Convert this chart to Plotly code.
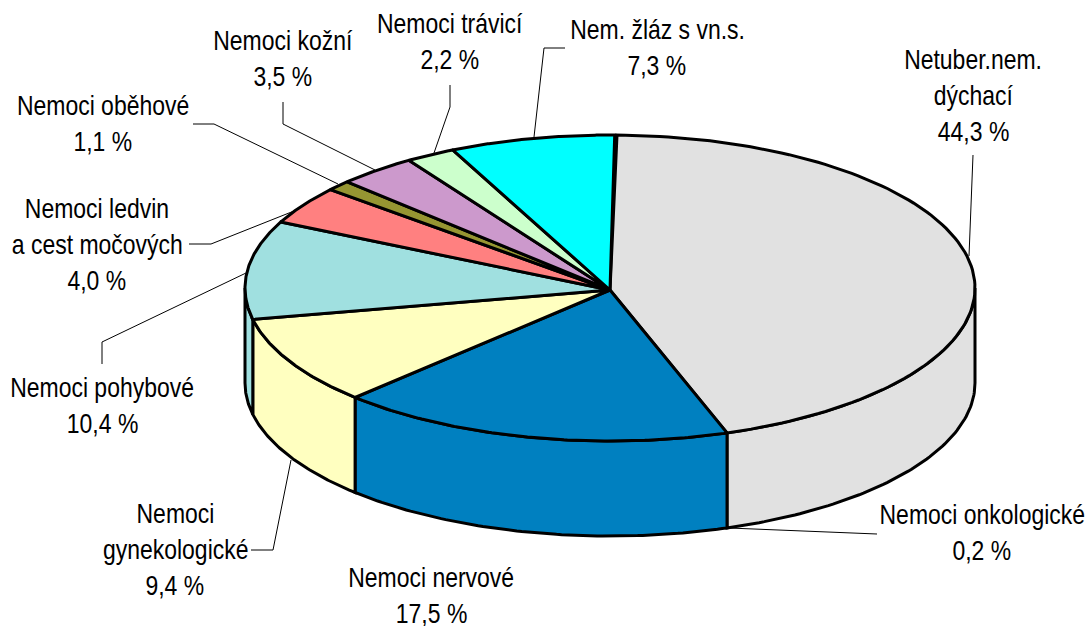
import numpy as np
import plotly.graph_objects as go

names = [["Netuber.nem.", "dýchací"], ["Nemoci onkologické"], ["Nemoci nervové"],
         ["Nemoci", "gynekologické"], ["Nemoci pohybové"], ["Nemoci ledvin", "a cest močových"],
         ["Nemoci oběhové"], ["Nemoci kožní"], ["Nemoci trávicí"], ["Nem. žláz s vn.s."]]
values = [44.3, 0.2, 17.5, 9.4, 10.4, 4.0, 1.1, 3.5, 2.2, 7.3]
colors = ["#E1E1E1", "#E1E1E1", "#0080C0", "#FFFFC0", "#A0E0E0", "#FF8080", "#969632", "#CC99CC", "#CCFFCC", "#00FFFF"]

# label placement: centre x, centre y of the first line
label_pos = [(973, 59), (982, 514), (431, 577), (175, 513), (102, 387),
             (97, 208), (103, 105), (283, 40), (450, 23), (657, 29)]
LINE_H = 36.3

leaders = [
    [(973, 155), (969, 256)],
    [(877, 534), (729, 528)],
    [],
    [(251, 550), (273, 550), (291, 460)],
    [(102, 364), (102, 342), (246, 273)],
    [(189, 244), (211, 244), (294, 211)],
    [(193, 124), (214, 124), (338, 184)],
    [(283, 102), (283, 124), (375, 170)],
    [(450, 85), (450, 107), (434, 153)],
    [(565, 48), (544, 48), (534, 137)],
]

CX, CY, RX, RY, DEPTH = 610.0, 288.0, 365.0, 153.0, 95.0
APEX_Y = 290.0  # the tilted pie's apex sits a little below the ellipse centre
START = 1.1  # degrees, clockwise from the top of the ellipse


def ell(t, dy=0.0):
    r = np.radians(t)
    return CX + RX * np.sin(r), CY - RY * np.cos(r) + dy


edges = START + np.concatenate([[0], np.cumsum(values)]) * 3.6
# neighbouring slices of one colour are outlined as a single shape
spans = []
for a, b, c in zip(edges[:-1], edges[1:], colors):
    if spans and spans[-1][2] == c:
        spans[-1][1] = b
    else:
        spans.append([a, b, c])

fig = go.Figure()


def poly(x, y, fill, width=3.0):
    fig.add_trace(go.Scatter(x=x, y=y, mode="lines", fill="toself", fillcolor=fill,
                             line=dict(color="black", width=width), hoverinfo="skip",
                             showlegend=False))


# side walls (only the front half of the rim is visible)
for a, b, c in spans:
    lo, hi = max(a, 90), min(b, 270)
    if hi <= lo:
        continue
    t = np.linspace(lo, hi, 80)
    x1, y1 = ell(t)
    x2, y2 = ell(t[::-1], DEPTH)
    poly(np.r_[x1, x2, x1[0]], np.r_[y1, y2, y1[0]], c)

# top face
for a, b, c in spans:
    t = np.linspace(a, b, 120)
    x, y = ell(t)
    poly(np.r_[CX, x, CX], np.r_[APEX_Y, y, APEX_Y], c)

# leader lines
for pts in leaders:
    if pts:
        fig.add_trace(go.Scatter(x=[p[0] for p in pts], y=[p[1] for p in pts], mode="lines",
                                 line=dict(color="black", width=1), hoverinfo="skip",
                                 showlegend=False))

# labels, one annotation per line so the line pitch can match
ann = []
for nm, v, (lx, ly) in zip(names, values, label_pos):
    lines = nm + [f"{v:.1f}".replace(".", ",") + " %"]
    for i, s in enumerate(lines):
        ann.append(dict(x=lx, y=ly + i * LINE_H, text=s, showarrow=False, xanchor="center",
                        yanchor="middle", xref="x", yref="y",
                        font=dict(family="Liberation Sans, Arial", size=28, color="black")))

fig.update_layout(width=1089, height=626, margin=dict(l=0, r=0, t=0, b=0),
                  paper_bgcolor="white", plot_bgcolor="white", showlegend=False, annotations=ann,
                  xaxis=dict(range=[0, 1089], visible=False, fixedrange=True),
                  yaxis=dict(range=[626, 0], visible=False, fixedrange=True))

# the reference's type is a condensed Arial: narrow each label to 82 % of its natural width
condense = """
document.body.style.margin = '0';
document.querySelectorAll('text.annotation-text').forEach(function (t) {
  var w = t.getComputedTextLength();
  t.setAttribute('lengthAdjust', 'spacingAndGlyphs');
  t.setAttribute('textLength', (w * 0.82).toFixed(1));
});
"""
fig.write_html("out.html", config={"displayModeBar": False}, post_script=condense)
